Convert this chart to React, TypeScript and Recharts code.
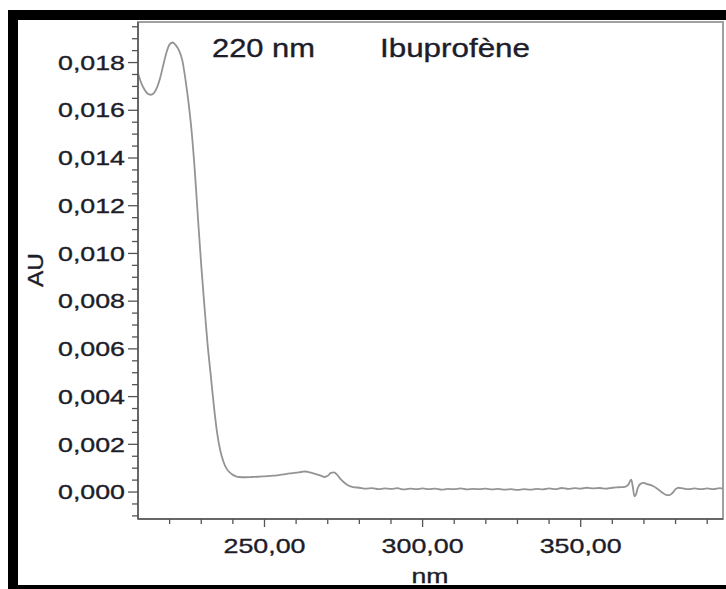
import React from 'react';
import { LineChart, Line, XAxis, YAxis, ReferenceArea } from 'recharts';

const wavelengths = [
  210, 211, 212, 213, 214, 215, 216, 217, 218, 219, 220, 221, 222, 223, 224, 225, 226, 227, 228, 229,
  230, 231, 232, 233, 234, 235, 236, 237, 238, 239, 240, 241, 242, 244, 246, 248, 250, 252, 254, 256,
  258, 260, 262, 263, 264, 266, 268, 269, 270, 271, 272, 273, 274, 275, 276, 277, 278,
  280, 282, 284, 286, 288, 290, 292, 294, 296, 298, 300, 302, 304, 306, 308, 310, 312, 314, 316, 318,
  320, 322, 324, 326, 328, 330, 332, 334, 336, 338, 340, 342, 344, 346, 348, 350, 352, 354, 356, 358,
  360, 362, 364, 365, 366, 366.5, 367, 367.5, 368, 369, 370, 371, 372, 373, 374, 375, 376, 377, 378,
  379, 380, 381, 382, 384, 386, 388, 390, 392, 394, 395,
];

const absorbance = [
  0.01755, 0.01715, 0.01688, 0.0167, 0.01665, 0.01672, 0.01695, 0.01735, 0.0179, 0.01842, 0.01876, 0.01884, 0.01872, 0.0185, 0.0181, 0.0173, 0.0163, 0.01506, 0.0134, 0.0114,
  0.0095, 0.0078, 0.0062, 0.0049, 0.0036, 0.0025, 0.00175, 0.00128, 0.00098, 0.00082, 0.00072, 0.00066, 0.00063, 0.00062, 0.00063, 0.00064, 0.00066, 0.00068, 0.0007, 0.00074,
  0.00078, 0.00081, 0.00085, 0.00086, 0.00083, 0.00076, 0.00068, 0.00063, 0.00068, 0.0008, 0.00082, 0.00072, 0.00055, 0.00042, 0.00032, 0.00025, 0.00021,
  0.00018, 0.00014, 0.00016, 0.00012, 0.00015, 0.00013, 0.00016, 0.00011, 0.00014, 0.00012, 0.00015, 0.00012, 0.00014, 0.0001, 0.00013, 0.00012, 0.00015, 0.00011, 0.00013, 0.00012,
  0.00014, 0.00011, 0.00013, 0.0001, 0.00012, 0.00009, 0.00012, 0.0001, 0.00013, 0.00011, 0.00015, 0.00012, 0.00017, 0.00013, 0.00016, 0.00014, 0.00018, 0.00015, 0.00017, 0.00014,
  0.00018, 0.0002, 0.00022, 0.0003, 0.00052, 0.0002, -0.00018, -0.0001, 0.00015, 0.00035, 0.00038, 0.00033, 0.0003, 0.00024, 0.00016, 0.00006, -0.00004, -0.00012, -0.00013,
  -0.00004, 0.00012, 0.00018, 0.00016, 0.00012, 0.00015, 0.00012, 0.00015, 0.00012, 0.00016, 0.00014,
];

const xTicks = [220, 230, 240, 250, 260, 270, 280, 290, 300, 310, 320, 330, 340, 350, 360, 370, 380, 390];
const xMajorTicks = [250, 300, 350];
const yTicks = [
  -0.001, -0.0005, 0, 0.0005, 0.001, 0.0015, 0.002, 0.0025, 0.003, 0.0035, 0.004, 0.0045, 0.005, 0.0055,
  0.006, 0.0065, 0.007, 0.0075, 0.008, 0.0085, 0.009, 0.0095, 0.01, 0.0105, 0.011, 0.0115, 0.012, 0.0125,
  0.013, 0.0135, 0.014, 0.0145, 0.015, 0.0155, 0.016, 0.0165, 0.017, 0.0175, 0.018, 0.0185, 0.019, 0.0195,
];
const yMajorTicks = [0, 0.002, 0.004, 0.006, 0.008, 0.01, 0.012, 0.014, 0.016, 0.018];
const yLabels = ['0,000', '0,002', '0,004', '0,006', '0,008', '0,010', '0,012', '0,014', '0,016', '0,018'];
const xLabels = ['250,00', '300,00', '350,00'];

const xDomain: [number, number] = [210, 395];
const yDomain: [number, number] = [-0.00113, 0.0197];

const data = wavelengths.map((nm, i) => ({ nm, au: absorbance[i] }));

const TEXT = '#1d1d2a';
const FONT = '"Liberation Sans", Arial, sans-serif';

const near = (a: number, b: number) => Math.abs(a - b) < 1e-9;

const YTick = (props: any) => {
  const { x, y, payload } = props;
  const idx = yMajorTicks.findIndex((v) => near(v, payload.value));
  const major = idx >= 0;
  const len = major ? 10 : 6;
  return (
    <g>
      <line x1={x - len} x2={x} y1={y} y2={y} stroke="#555" strokeWidth={1.3} />
      {major && (
        <text
          x={x - 13}
          y={y}
          dy="0.36em"
          textAnchor="end"
          fontSize={20}
          fontFamily={FONT}
          fill={TEXT}
          stroke={TEXT}
          strokeWidth={0.35}
          textLength={67}
          lengthAdjust="spacingAndGlyphs"
        >
          {yLabels[idx]}
        </text>
      )}
    </g>
  );
};

const XTick = (props: any) => {
  const { x, y, payload } = props;
  const idx = xMajorTicks.indexOf(payload.value);
  const major = idx >= 0;
  const len = major ? 8 : 5;
  return (
    <g>
      <line x1={x} x2={x} y1={y} y2={y + len} stroke="#555" strokeWidth={1.3} />
      {major && (
        <text
          x={x}
          y={y + 34}
          textAnchor="middle"
          fontSize={21}
          fontFamily={FONT}
          fill={TEXT}
          stroke={TEXT}
          strokeWidth={0.35}
          textLength={82}
          lengthAdjust="spacingAndGlyphs"
        >
          {xLabels[idx]}
        </text>
      )}
    </g>
  );
};

export default function App() {
  return (
    <div style={{ position: 'fixed', left: 0, top: 0, width: 726, height: 589, overflow: 'hidden', background: '#fff' }}>
      <style>{`html,body{margin:0;padding:0;overflow:hidden;}`}</style>
      <div
        style={{
          position: 'absolute',
          left: 8,
          top: 10,
          width: 718,
          height: 579,
          boxSizing: 'border-box',
          borderLeft: '10px solid #000',
          borderTop: '10px solid #000',
          borderBottom: '4px solid #000',
          background: '#fff',
        }}
      />
      <div style={{ position: 'absolute', left: 0, top: 0, width: 726, height: 589 }}>
        <LineChart width={726} height={589} data={data} margin={{ top: 22, right: 3, bottom: 0, left: 0 }}>
          <ReferenceArea
            x1={xDomain[0]}
            x2={xDomain[1]}
            y1={yDomain[0]}
            y2={yDomain[1]}
            fill="none"
            stroke="#a0a0a0"
            strokeWidth={2}
            ifOverflow="visible"
          />
          <XAxis
            dataKey="nm"
            type="number"
            domain={xDomain}
            ticks={xTicks}
            interval={0}
            tickSize={0}
            tickMargin={0}
            tickLine={false}
            tick={<XTick />}
            height={70}
            axisLine={{ stroke: '#555', strokeWidth: 1.5 }}
            allowDataOverflow
          />
          <YAxis
            type="number"
            domain={yDomain}
            ticks={yTicks}
            interval={0}
            tickSize={0}
            tickMargin={0}
            tickLine={false}
            tick={<YTick />}
            width={138}
            axisLine={{ stroke: '#555', strokeWidth: 1.5 }}
            allowDataOverflow
          />
          <Line
            dataKey="au"
            type="monotone"
            stroke="#949494"
            strokeWidth={1.8}
            dot={false}
            isAnimationActive={false}
          />
        </LineChart>
        <svg
          width={726}
          height={589}
          style={{ position: 'absolute', left: 0, top: 0, pointerEvents: 'none' }}
        >
          <text x={212} y={57} fontSize={25} fontFamily={FONT} fill={TEXT} stroke={TEXT} strokeWidth={0.35} textLength={103} lengthAdjust="spacingAndGlyphs">
            220 nm
          </text>
          <text x={380} y={57} fontSize={25} fontFamily={FONT} fill={TEXT} stroke={TEXT} strokeWidth={0.35} textLength={150} lengthAdjust="spacingAndGlyphs">
            Ibuprofène
          </text>
          <text x={430} y={583} textAnchor="middle" fontSize={21} fontFamily={FONT} fill={TEXT} stroke={TEXT} strokeWidth={0.35} textLength={37} lengthAdjust="spacingAndGlyphs">
            nm
          </text>
          <text
            x={0}
            y={0}
            transform="translate(43,270) rotate(-90)"
            textAnchor="middle"
            fontSize={22}
            fontFamily={FONT}
            fill={TEXT}
            stroke={TEXT}
            strokeWidth={0.35}
            textLength={34}
            lengthAdjust="spacingAndGlyphs"
          >
            AU
          </text>
        </svg>
      </div>
    </div>
  );
}
